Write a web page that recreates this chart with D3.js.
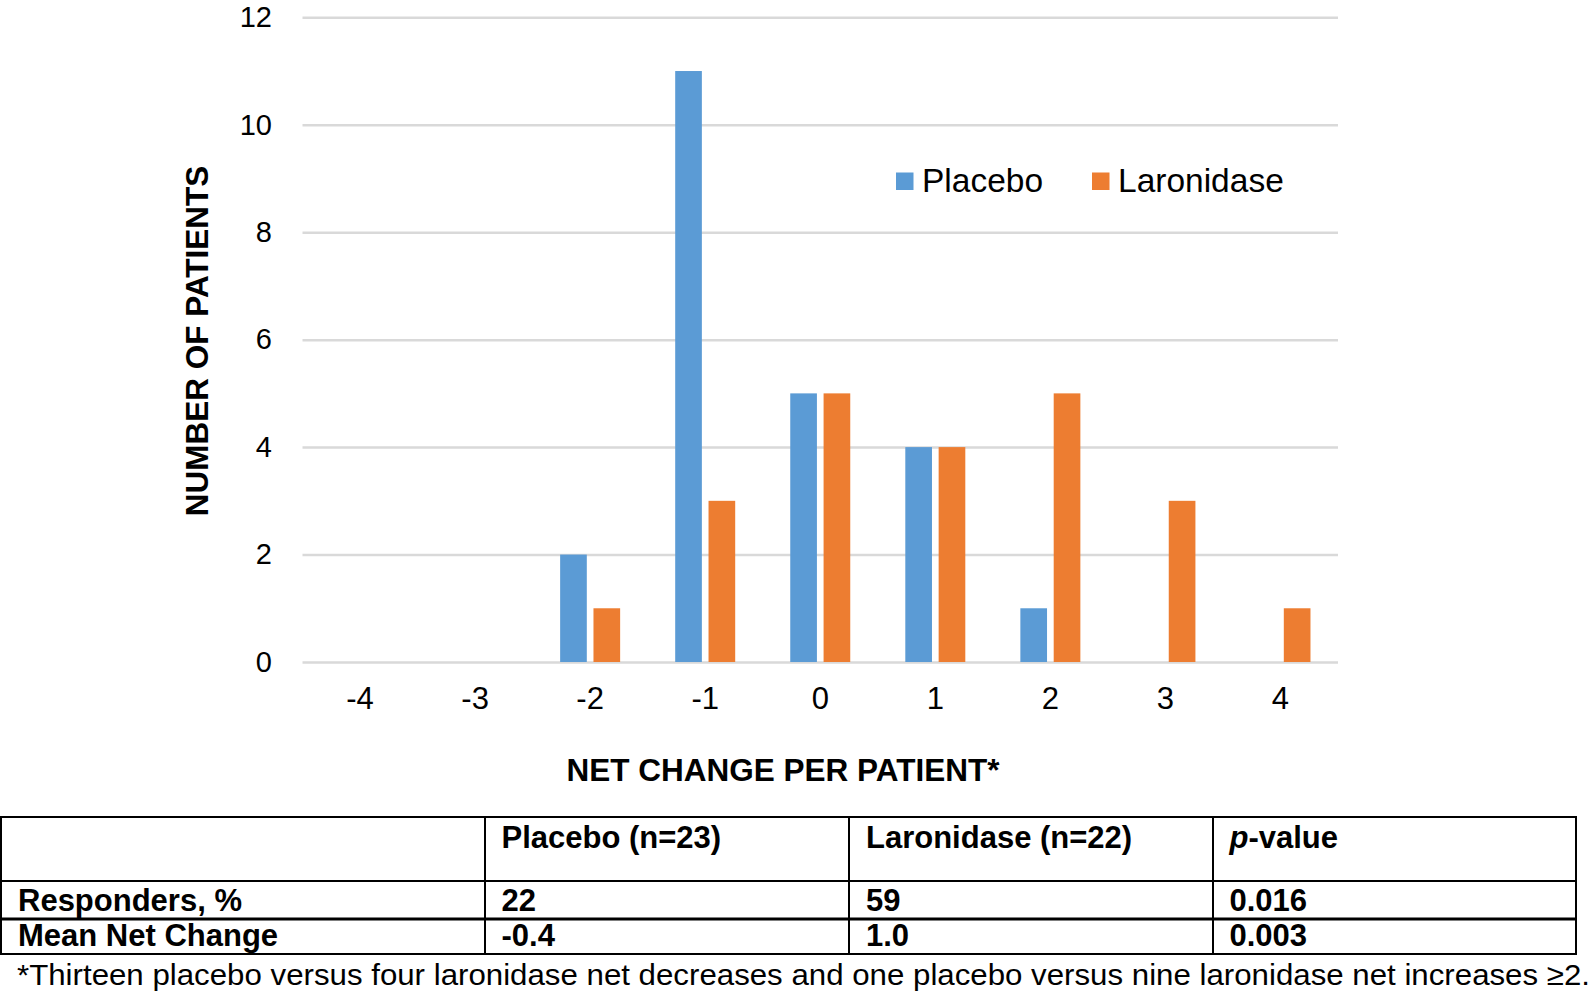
<!DOCTYPE html>
<html>
<head>
<meta charset="utf-8">
<script src="https://cdn.jsdelivr.net/npm/d3@7"></script>
<style>
  body { margin: 0; background: #fff; }
  svg { display: block; font-family: "Liberation Sans", Arial, sans-serif; }
</style>
</head>
<body>
<svg id="chart" width="1592" height="996"></svg>
<script>
const categories = ["-4", "-3", "-2", "-1", "0", "1", "2", "3", "4"];
const series = ["Placebo", "Laronidase"];
const placebo = [0, 0, 2, 11, 5, 4, 1, 0, 0];
const laronidase = [0, 0, 1, 3, 5, 4, 5, 3, 1];
const yTicks = [0, 2, 4, 6, 8, 10, 12];

const tableHeader = ["", "Placebo (n=23)", "Laronidase (n=22)", "p-value"];
const tableRows = [
    ["Responders, %", "22", "59", "0.016"],
    ["Mean Net Change", "-0.4", "1.0", "0.003"]
];
const footnote = "*Thirteen placebo versus four laronidase net decreases and one placebo versus nine laronidase net increases \u22652.";

const colors = ['#5B9BD5', '#ED7D31'];
const values = [placebo, laronidase];

const svg = d3.select('#chart');

const plotL = 302.5, plotR = 1338, plotT = 17.3, plotB = 662;

const x = d3.scaleBand()
    .domain(categories)
    .range([plotL, plotR])
    .padding(0);

const groupW = 60;
const xs = d3.scaleBand()
    .domain(series)
    .range([(x.bandwidth() - groupW) / 2, (x.bandwidth() + groupW) / 2])
    .paddingInner(0.2);

const y = d3.scaleLinear()
    .domain([0, 12])
    .range([plotB, plotT]);

// gridlines
svg.append("g")
    .attr("transform", `translate(${plotL},0)`)
    .call(d3.axisLeft(y).tickValues(yTicks).tickSize(-(plotR - plotL)).tickFormat(""))
    .call(g => g.select(".domain").remove())
    .call(g => g.selectAll("line").attr("stroke", "#D9D9D9").attr("stroke-width", 2.5));

// y tick labels
svg.append("g")
    .attr("transform", `translate(272,0)`)
    .call(d3.axisLeft(y).tickValues(yTicks).tickSize(0).tickPadding(0))
    .call(g => g.select(".domain").remove())
    .call(g => g.selectAll("text")
        .attr("font-size", 29)
        .attr("font-family", "Liberation Sans, Arial, sans-serif")
        .attr("fill", "#000"));

// x tick labels
svg.append("g")
    .attr("transform", `translate(0,${plotB})`)
    .call(d3.axisBottom(x).tickSize(0).tickPadding(25))
    .call(g => g.select(".domain").remove())
    .call(g => g.selectAll("text")
        .attr("font-size", 31)
        .attr("font-family", "Liberation Sans, Arial, sans-serif")
        .attr("fill", "#000"));

// bars
series.forEach((s, si) => {
    svg.append("g")
        .selectAll("rect")
        .data(categories.map((c, i) => ({ c, v: values[si][i] })))
        .join("rect")
        .attr("x", d => x(d.c) + xs(s))
        .attr("width", xs.bandwidth())
        .attr("y", d => y(d.v))
        .attr("height", d => y(0) - y(d.v))
        .attr("fill", colors[si]);
});

// axis titles
svg.append("text")
    .attr("transform", `translate(208,341) rotate(-90)`)
    .attr("text-anchor", "middle")
    .attr("font-size", 31.5)
    .attr("font-weight", "bold")
    .text("NUMBER OF PATIENTS");

svg.append("text")
    .attr("x", 783)
    .attr("y", 781)
    .attr("text-anchor", "middle")
    .attr("font-size", 31.5)
    .attr("font-weight", "bold")
    .text("NET CHANGE PER PATIENT*");

// legend
const legendX = [896, 1092];
series.forEach((s, i) => {
    svg.append("rect")
        .attr("x", legendX[i])
        .attr("y", 172.5)
        .attr("width", 17.5)
        .attr("height", 17.5)
        .attr("fill", colors[i]);
    svg.append("text")
        .attr("x", legendX[i] + 26)
        .attr("y", 192)
        .attr("font-size", 33.5)
        .text(s);
});

// table
const colX = [1, 485, 849, 1213, 1576];
const rowY = [817, 881, 919, 954];
const tbl = svg.append("g");

tbl.append("rect")
    .attr("x", colX[0]).attr("y", rowY[0])
    .attr("width", colX[4] - colX[0]).attr("height", rowY[3] - rowY[0])
    .attr("fill", "none").attr("stroke", "#000").attr("stroke-width", 2);

rowY.slice(1, 3).forEach((ry, i) => {
    tbl.append("line")
        .attr("x1", colX[0]).attr("x2", colX[4])
        .attr("y1", ry).attr("y2", ry)
        .attr("stroke", "#000").attr("stroke-width", i === 1 ? 3 : 2);
});
colX.slice(1, 4).forEach(cx => {
    tbl.append("line")
        .attr("x1", cx).attr("x2", cx)
        .attr("y1", rowY[0]).attr("y2", rowY[3])
        .attr("stroke", "#000").attr("stroke-width", 2);
});

const cellPad = [17, 16.5, 17, 16.5];
tableHeader.forEach((h, i) => {
    if (!h) return;
    const t = tbl.append("text")
        .attr("x", colX[i] + cellPad[i])
        .attr("y", 848)
        .attr("font-size", 31)
        .attr("font-weight", "bold");
    if (h === "p-value") {
        t.append("tspan").attr("font-style", "italic").text("p");
        t.append("tspan").text("-value");
    } else {
        t.text(h);
    }
});

const rowBase = [911, 946];
tableRows.forEach((row, ri) => {
    row.forEach((cell, ci) => {
        tbl.append("text")
            .attr("x", colX[ci] + cellPad[ci])
            .attr("y", rowBase[ri])
            .attr("font-size", 31)
            .attr("font-weight", "bold")
            .text(cell);
    });
});

svg.append("text")
    .attr("x", 17)
    .attr("y", 985)
    .attr("font-size", 30)
    .attr("textLength", 1573)
    .attr("lengthAdjust", "spacingAndGlyphs")
    .text(footnote);
</script>
</body>
</html>
